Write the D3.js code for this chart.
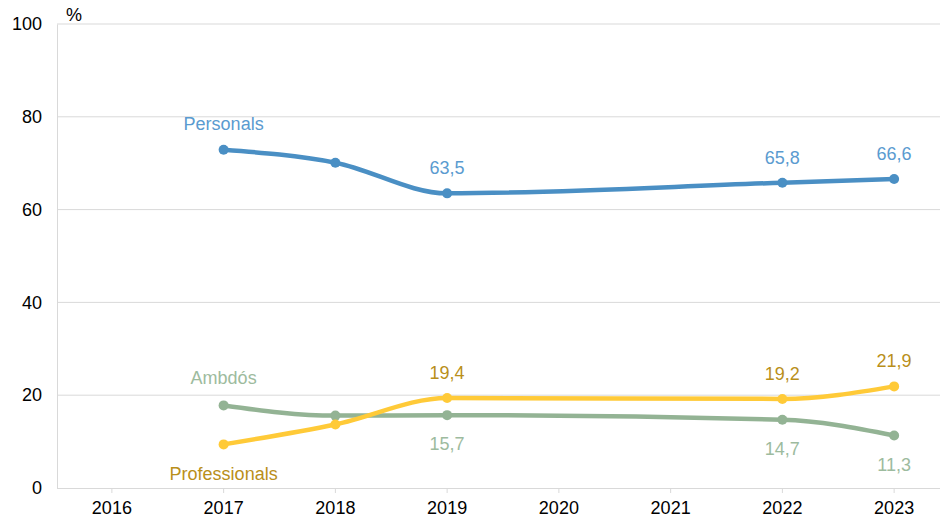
<!DOCTYPE html>
<html lang="ca">
  <head>
    <meta charset="utf-8">
    <title>Personals / Professionals / Ambdós</title>
    <script src="https://d3js.org/d3.v7.min.js"></script>
    <style>
      body { margin: 0; background: #fff; }
      svg text { font-family: "Liberation Sans", Arial, sans-serif; }
    </style>
  </head>
  <body>
    <script>
      // data (null = no marker that year)
      const years = ["2016", "2017", "2018", "2019", "2020", "2021", "2022", "2023"]
      const personals = [null, 72.9, 70.1, 63.5, null, null, 65.8, 66.6]
      const professionals = [null, 9.4, 13.7, 19.4, null, null, 19.2, 21.9]
      const ambdos = [null, 17.8, 15.6, 15.7, null, null, 14.7, 11.3]
      const yTicks = [0, 20, 40, 60, 80, 100]

      const measurements = { width: 942, height: 518, left: 57, right: 940, bandRight: 950, top: 24, bottom: 488 }
      const fontSize = 18

      const svg = d3.select("body").append("svg")
        .attr("width", measurements.width)
        .attr("height", measurements.height)

      const scaleX = d3.scaleBand()
        .domain(years)
        .range([measurements.left - 1, measurements.bandRight])

      const scaleY = d3.scaleLinear()
        .domain([0, 100])
        .range([measurements.bottom, measurements.top])

      const xc = (yr) => scaleX(yr) + scaleX.bandwidth() / 2

      // gridlines
      svg.append("g")
        .selectAll("line")
        .data(yTicks.filter(d => d > 0))
        .join("line")
        .attr("x1", measurements.left)
        .attr("x2", measurements.right)
        .attr("y1", d => scaleY(d))
        .attr("y2", d => scaleY(d))
        .attr("stroke", "#d9d9d9")
        .attr("stroke-width", 1)

      // y axis
      const yAxis = d3.axisLeft(scaleY).tickValues(yTicks).tickSize(0).tickPadding(15)
      const gy = svg.append("g")
        .attr("transform", `translate(${measurements.left},0)`)
        .call(yAxis)
      gy.select(".domain").attr("stroke", "#d9d9d9")
      gy.selectAll("text").attr("font-size", fontSize).attr("fill", "#000")
        .style("font-family", "Liberation Sans, Arial, sans-serif")

      // x axis
      const xAxis = d3.axisBottom(scaleX).tickSize(5).tickPadding(8)
      const gx = svg.append("g")
        .attr("transform", `translate(0,${measurements.bottom})`)
        .call(xAxis)
      gx.select(".domain").attr("stroke", "#d9d9d9").attr("d", `M${measurements.left},0.5H${measurements.right}`)
      gx.selectAll(".tick line").attr("stroke", "#d9d9d9")
      gx.selectAll("text").attr("font-size", fontSize).attr("fill", "#000")
        .style("font-family", "Liberation Sans, Arial, sans-serif")

      svg.append("text")
        .attr("x", 66).attr("y", 21)
        .attr("font-size", fontSize)
        .text("%")

      const series = [
        { name: "Personals", values: personals, line: "#4a8fc4", label: "#5a9bd0",
          nameAt: 1, nameDy: -20, valDy: -19 },
        { name: "Ambdós", values: ambdos, line: "#93b394", label: "#9dbb9e",
          nameAt: 1, nameDy: -21, valDy: 35 },
        { name: "Professionals", values: professionals, line: "#ffca38", label: "#b98f1a",
          nameAt: 1, nameDy: 36, valDy: -19 }
      ]

      const line = d3.line()
        .x(d => xc(d.year))
        .y(d => scaleY(d.value))
        .curve(d3.curveMonotoneX)

      series.forEach(s => {
        const pts = years.map((yr, i) => ({ year: yr, value: s.values[i], i: i }))
          .filter(d => d.value !== null)

        svg.append("path")
          .datum(pts)
          .attr("d", line)
          .attr("fill", "none")
          .attr("stroke", s.line)
          .attr("stroke-width", 4.5)
          .attr("stroke-linecap", "round")

        svg.append("g")
          .selectAll("circle")
          .data(pts)
          .join("circle")
          .attr("cx", d => xc(d.year))
          .attr("cy", d => scaleY(d.value))
          .attr("r", 5)
          .attr("fill", s.line)

        // value labels (not for 2017/2018)
        svg.append("g")
          .selectAll("text")
          .data(pts.filter(d => d.i >= 3))
          .join("text")
          .attr("x", d => xc(d.year))
          .attr("y", d => scaleY(d.value) + s.valDy)
          .attr("text-anchor", "middle")
          .attr("font-size", fontSize)
          .attr("fill", s.label)
          .text(d => d3.format(".1f")(d.value).replace(".", ","))

        // series name near 2017 point
        svg.append("text")
          .attr("x", xc(years[s.nameAt]))
          .attr("y", scaleY(s.values[s.nameAt]) + s.nameDy)
          .attr("text-anchor", "middle")
          .attr("font-size", fontSize)
          .attr("fill", s.label)
          .text(s.name)
      })
    </script>
  </body>
</html>
